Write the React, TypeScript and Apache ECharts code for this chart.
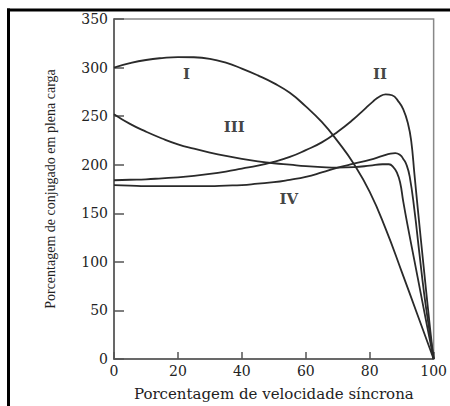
import React, { useEffect, useRef } from "react";
import * as echarts from "echarts";

// Percentage of synchronous speed (x) and torque percentage (y) for each curve
const speedI = [0, 5, 10, 15, 20, 25, 30, 35, 40, 45, 50, 55, 60, 65, 70, 75, 80, 85, 90, 95, 100];
const torqueI = [300, 304.5, 307.8, 309.8, 310.8, 310.6, 309, 305, 299, 292, 284, 274, 260, 244, 224, 201, 172, 134, 90, 45, 0];

const speedII = [0, 5, 10, 15, 20, 25, 30, 35, 40, 45, 50, 55, 60, 65, 70, 75, 78, 81, 83, 85, 87, 89, 90.5, 92, 93, 94, 95, 97, 99, 100];
const torqueII = [184, 184.5, 185, 186, 187, 188.5, 190.5, 193, 196, 199, 203, 208, 215, 223, 234, 247, 256, 265, 270, 272.5, 271.5, 265, 257, 242, 224, 190, 156, 91, 28, 0];

const speedIII = [0, 5, 10, 15, 20, 25, 30, 35, 40, 45, 50, 55, 60, 65, 70, 75, 80, 84, 86, 87.5, 88.5, 89.5, 90.5, 92, 94, 96, 98, 100];
const torqueIII = [252, 242, 234, 227, 221, 216.5, 212.5, 209, 206, 203.5, 201.5, 200, 198.5, 197.5, 197, 197.5, 199, 200.5, 200.5, 197, 192, 182, 162, 135, 101, 67, 33, 0];

const speedIV = [0, 5, 10, 15, 20, 25, 30, 35, 40, 45, 50, 55, 60, 65, 70, 75, 80, 84, 86.5, 88, 89.5, 90.5, 91.5, 92.5, 94, 95.5, 97, 98.5, 100];
const torqueIV = [179, 178.5, 178, 178, 178, 178, 178, 178.5, 179, 180.5, 182, 184.5, 187.5, 192, 197, 201, 205, 209, 211.5, 212, 210, 206, 200, 188, 153, 110, 68, 33, 0];

const curveNames = ["I", "II", "III", "IV"];
const labelX = [22.7, 83.2, 37.6, 54.7];
const labelY = [293, 293, 239, 165];

const xTicks = [0, 20, 40, 60, 80, 100];
const yTicks = [0, 50, 100, 150, 200, 250, 300, 350];

const xTitle = "Porcentagem de velocidade síncrona";
const yTitle = "Porcentagem de conjugado em plena carga";

const zip = (xs: number[], ys: number[]) => xs.map((x, i) => [x, ys[i]]);

export default function App() {
  const ref = useRef<HTMLDivElement>(null);
  useEffect(() => {
    if (!ref.current) return;
    const chart = echarts.init(ref.current, undefined, { renderer: "svg" });
    const lineStyle = { color: "#2a2a2a", width: 1.8 };
    const mkLine = (name: string, xs: number[], ys: number[]) => ({
      name,
      type: "line",
      data: zip(xs, ys),
      smooth: 0.5,
      showSymbol: false,
      symbol: "none",
      lineStyle,
      z: 3,
    });
    chart.setOption({
      animation: false,
      backgroundColor: "#fff",
      grid: {
        left: 114,
        right: 14,
        top: 19,
        bottom: 43,
        show: true,
        borderColor: "#888",
        borderWidth: 1.5,
        backgroundColor: "transparent",
      },
      xAxis: {
        type: "value",
        min: xTicks[0],
        max: xTicks[xTicks.length - 1],
        interval: 20,
        name: xTitle,
        nameLocation: "middle",
        nameGap: 27,
        nameTextStyle: { fontFamily: "DejaVu Serif", fontSize: 15, color: "#222" },
        axisLine: { show: true, lineStyle: { color: "#555", width: 1.5 } },
        axisTick: { show: true, inside: true, length: 7, lineStyle: { color: "#555", width: 1.5 } },
        axisLabel: {
          fontFamily: "DejaVu Serif",
          fontSize: 14,
          color: "#222",
          margin: 5,
          showMinLabel: true,
          showMaxLabel: true,
        },
        splitLine: { show: false },
      },
      yAxis: {
        type: "value",
        min: yTicks[0],
        max: yTicks[yTicks.length - 1],
        interval: 50,
        name: yTitle,
        nameLocation: "middle",
        nameGap: 57,
        nameTextStyle: { fontFamily: "Liberation Serif", fontSize: 14, color: "#222" },
        axisLine: { show: true, lineStyle: { color: "#555", width: 1.5 } },
        axisTick: { show: true, inside: true, length: 10, lineStyle: { color: "#555", width: 1.5 } },
        axisLabel: {
          fontFamily: "DejaVu Serif",
          fontSize: 14,
          color: "#222",
          margin: 6,
        },
        splitLine: { show: false },
      },
      series: [
        mkLine("I", speedI, torqueI),
        mkLine("II", speedII, torqueII),
        mkLine("III", speedIII, torqueIII),
        mkLine("IV", speedIV, torqueIV),
        {
          type: "scatter",
          symbolSize: 0,
          data: curveNames.map((n, i) => [labelX[i], labelY[i], n]),
          label: {
            show: true,
            position: "inside",
            formatter: (p: any) => p.value[2],
            fontFamily: "DejaVu Serif",
            fontWeight: "bold",
            fontSize: 15,
            color: "#111",
          },
          z: 5,
        },
      ],
      graphic: [
        { type: "line", shape: { x1: 7, y1: 10, x2: 450, y2: 10 }, style: { stroke: "#000", lineWidth: 3 } },
        { type: "line", shape: { x1: 8.5, y1: 8.5, x2: 8.5, y2: 406 }, style: { stroke: "#000", lineWidth: 3 } },
      ],
    });
    return () => chart.dispose();
  }, []);
  return (
    <div
      ref={ref}
      style={{ position: "fixed", left: 0, top: 0, width: 450, height: 406, background: "#fff" }}
    />
  );
}
